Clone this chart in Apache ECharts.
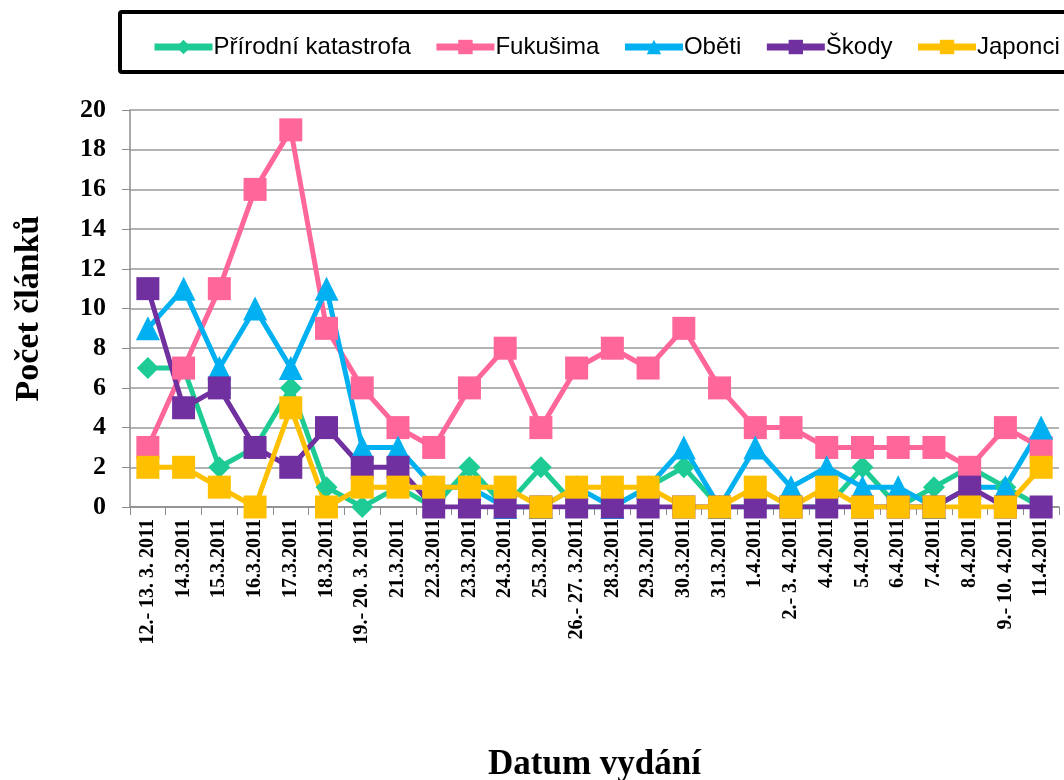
<!DOCTYPE html>
<html>
<head>
<meta charset="utf-8">
<script src="https://cdn.jsdelivr.net/npm/echarts@6/dist/echarts.min.js"></script>
<style>
  html, body { margin: 0; padding: 0; background: #fff; }
  #main { width: 1064px; height: 780px; }
</style>
</head>
<body>
<div id="main"></div>
<script>
// data
var dates = [
  '12.- 13. 3. 2011', '14.3.2011', '15.3.2011', '16.3.2011', '17.3.2011', '18.3.2011',
  '19.- 20. 3. 2011', '21.3.2011', '22.3.2011', '23.3.2011', '24.3.2011', '25.3.2011',
  '26.- 27. 3.2011', '28.3.2011', '29.3.2011', '30.3.2011', '31.3.2011', '1.4.2011',
  '2.- 3. 4.2011', '4.4.2011', '5.4.2011', '6.4.2011', '7.4.2011', '8.4.2011',
  '9.- 10. 4.2011', '11.4.2011'
];
var prirodni = [7, 7, 2, 3, 6, 1, 0, 1, 0, 2, 0, 2, 0, 0, 1, 2, 0, 0, 0, 0, 2, 0, 1, 2, 1, 0];
var fukusima = [3, 7, 11, 16, 19, 9, 6, 4, 3, 6, 8, 4, 7, 8, 7, 9, 6, 4, 4, 3, 3, 3, 3, 2, 4, 3];
var obeti    = [9, 11, 7, 10, 7, 11, 3, 3, 1, 1, 0, 0, 1, 0, 1, 3, 0, 3, 1, 2, 1, 1, 0, 1, 1, 4];
var skody    = [11, 5, 6, 3, 2, 4, 2, 2, 0, 0, 0, 0, 0, 0, 0, 0, 0, 0, 0, 0, 0, 0, 0, 1, 0, 0];
var japonci  = [2, 2, 1, 0, 5, 0, 1, 1, 1, 1, 1, 0, 1, 1, 1, 0, 0, 1, 0, 1, 0, 0, 0, 0, 0, 2];

var serif = '"Liberation Serif", "Times New Roman", serif';

function mkSeries(name, data, color, symbol, size) {
  return {
    name: name,
    type: 'line',
    data: data,
    symbol: symbol,
    symbolSize: size,
    lineStyle: { color: color, width: 5 },
    itemStyle: { color: color },
    emphasis: { disabled: true },
    animation: false
  };
}

var myChart = echarts.init(document.getElementById('main'));
myChart.setOption({
  backgroundColor: '#fff',
  animation: false,
  graphic: [{
    type: 'rect',
    shape: { x: 120, y: 12, width: 960, height: 60, r: 2 },
    style: { fill: '#fff', stroke: '#000', lineWidth: 4 },
    z: -1
  }],
  legend: {
    left: 146,
    top: 30,
    width: 1200,
    itemWidth: 58,
    itemHeight: 18,
    itemGap: 22,
    lineStyle: { width: 7 },
    textStyle: { fontFamily: '"Liberation Sans", sans-serif', fontSize: 24, color: '#000', padding: [0, 0, 0, -4] },
    data: ['Přírodní katastrofa', 'Fukušima', 'Oběti', 'Škody', 'Japonci']
  },
  grid: { left: 130, right: 5, top: 110, bottom: 273, outerBoundsMode: 'none' },
  xAxis: {
    type: 'category',
    data: dates,
    boundaryGap: true,
    name: 'Datum vydání',
    nameLocation: 'middle',
    nameGap: 240,
    nameTextStyle: { fontFamily: serif, fontWeight: 'bold', fontSize: 35, color: '#000' },
    axisLine: { lineStyle: { color: '#8c8c8c', width: 1.5 } },
    axisTick: { show: true, length: 8, lineStyle: { color: '#8c8c8c' } },
    axisLabel: {
      interval: 0,
      rotate: 90,
      margin: 12,
      fontFamily: serif,
      fontWeight: 'bold',
      fontSize: 20,
      color: '#000'
    }
  },
  yAxis: {
    type: 'value',
    min: 0,
    max: 20,
    interval: 2,
    name: 'Počet článků',
    nameLocation: 'middle',
    nameGap: 84,
    nameTextStyle: { fontFamily: serif, fontWeight: 'bold', fontSize: 34, color: '#000' },
    axisLine: { show: true, lineStyle: { color: '#8c8c8c', width: 1.5 } },
    axisTick: { show: true, length: 8, lineStyle: { color: '#8c8c8c' } },
    splitLine: { lineStyle: { color: '#9a9a9a', width: 1.5 } },
    axisLabel: {
      margin: 24,
      fontFamily: serif,
      fontWeight: 'bold',
      fontSize: 26,
      color: '#000'
    }
  },
  series: [
    mkSeries('Přírodní katastrofa', prirodni, '#1ECB94', 'diamond', 22),
    mkSeries('Fukušima', fukusima, '#FF6699', 'rect', 23),
    mkSeries('Oběti', obeti, '#00B0F0', 'triangle', 24),
    mkSeries('Škody', skody, '#7030A0', 'rect', 23),
    mkSeries('Japonci', japonci, '#FFC000', 'rect', 23)
  ]
});
</script>
</body>
</html>
